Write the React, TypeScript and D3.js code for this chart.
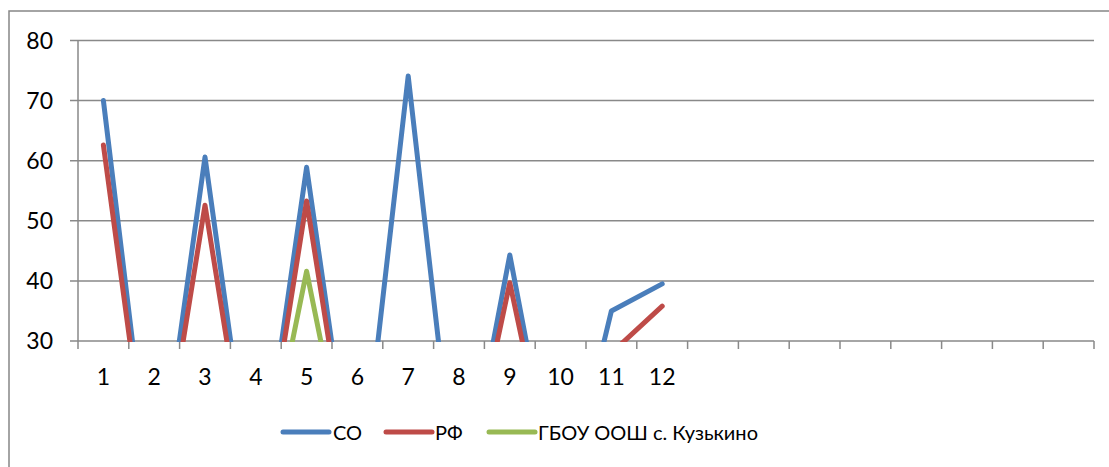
import React, { useEffect, useRef } from 'react';
import * as d3 from 'd3';

// 20 category slots on the axis, only the first 12 carry labels and data
const categoryLabels = ['1', '2', '3', '4', '5', '6', '7', '8', '9', '10', '11', '12', '', '', '', '', '', '', '', ''];
const coValues = [70, 0, 60.6, 0, 58.9, 0, 74.1, 0, 44.3, 0, 35, 39.5];
const rfValues = [62.6, 0, 52.6, 0, 53.3, 0, 0, 0, 39.7, 0, 28, 35.8];
const schoolValues = [0, 0, 0, 0, 41.6, 0, 0, 0, 0, 0, 0, 0];
const yTicks = [30, 40, 50, 60, 70, 80];

const series = [
  { name: 'СО', values: coValues, color: '#4A7EBB' },
  { name: 'РФ', values: rfValues, color: '#BE4B48' },
  { name: 'ГБОУ ООШ с. Кузькино', values: schoolValues, color: '#98B954' },
];

const W = 1109;
const H = 467;
const FONT = 'Lato, "Open Sans", sans-serif';

export default function App() {
  const svgRef = useRef<SVGSVGElement>(null);

  useEffect(() => {
    if (!svgRef.current) return;
    const svg = d3.select(svgRef.current);
    svg.selectAll('*').remove();

    const plot = { left: 78, right: 1094, top: 40.5, bottom: 341 };

    const xScale = d3.scaleBand<number>()
      .domain(categoryLabels.map((_, i) => i))
      .range([plot.left, plot.right]);

    const yScale = d3.scaleLinear()
      .domain([30, 80])
      .range([plot.bottom, plot.top]);

    // outer chart frame
    svg.append('rect')
      .attr('x', 9)
      .attr('y', 11)
      .attr('width', W + 10)
      .attr('height', H + 10)
      .attr('fill', '#fff')
      .attr('stroke', '#868686')
      .attr('stroke-width', 1.5);

    // horizontal gridlines (the 30 line doubles as the x axis)
    svg.append('g')
      .selectAll('line')
      .data(yTicks)
      .enter().append('line')
      .attr('x1', plot.left - 8)
      .attr('x2', plot.right)
      .attr('y1', d => yScale(d))
      .attr('y2', d => yScale(d))
      .attr('stroke', '#898989')
      .attr('stroke-width', 1.5);

    // y axis line
    svg.append('line')
      .attr('x1', plot.left)
      .attr('x2', plot.left)
      .attr('y1', plot.top)
      .attr('y2', plot.bottom)
      .attr('stroke', '#898989')
      .attr('stroke-width', 1.5);

    // y labels
    svg.append('g')
      .selectAll('text')
      .data(yTicks)
      .enter().append('text')
      .attr('x', 53)
      .attr('y', d => yScale(d) + 8)
      .attr('text-anchor', 'end')
      .style('font-family', FONT)
      .style('font-size', '23px')
      .attr('fill', '#000')
      .text(d => d);

    // x tick marks at category boundaries
    const boundaries = categoryLabels.map((_, i) => xScale(i) as number).concat([plot.right]);
    svg.append('g')
      .selectAll('line')
      .data(boundaries)
      .enter().append('line')
      .attr('x1', d => d)
      .attr('x2', d => d)
      .attr('y1', plot.bottom)
      .attr('y2', plot.bottom + 8)
      .attr('stroke', '#898989')
      .attr('stroke-width', 1.5);

    // x labels
    svg.append('g')
      .selectAll('text')
      .data(categoryLabels)
      .enter().append('text')
      .attr('x', (_, i) => (xScale(i) as number) + xScale.bandwidth() / 2)
      .attr('y', 385)
      .attr('text-anchor', 'middle')
      .style('font-family', FONT)
      .style('font-size', '23px')
      .attr('fill', '#000')
      .text(d => d);

    // clip lines to plot area like Excel does
    svg.append('defs')
      .append('clipPath')
      .attr('id', 'plot-clip')
      .append('rect')
      .attr('x', plot.left - 20)
      .attr('y', plot.top - 20)
      .attr('width', plot.right - plot.left + 40)
      .attr('height', plot.bottom - plot.top + 21);

    const line = d3.line<number>()
      .x((_, i) => (xScale(i) as number) + xScale.bandwidth() / 2)
      .y(d => yScale(d));

    const lines = svg.append('g').attr('clip-path', 'url(#plot-clip)');
    series.forEach(s => {
      lines.append('path')
        .datum(s.values)
        .attr('fill', 'none')
        .attr('stroke', s.color)
        .attr('stroke-width', 5)
        .attr('stroke-linejoin', 'round')
        .attr('stroke-linecap', 'round')
        .attr('d', line);
    });

    // legend
    const legendItems = [
      { x: 283, textX: 333 },
      { x: 386, textX: 435 },
      { x: 489, textX: 538 },
    ];
    const legend = svg.append('g');
    series.forEach((s, i) => {
      legend.append('line')
        .attr('x1', legendItems[i].x)
        .attr('x2', legendItems[i].x + 46)
        .attr('y1', 432)
        .attr('y2', 432)
        .attr('stroke', s.color)
        .attr('stroke-width', 5)
        .attr('stroke-linecap', 'round');
      legend.append('text')
        .attr('x', legendItems[i].textX)
        .attr('y', 440)
        .style('font-family', FONT)
        .style('font-size', '20px')
        .attr('fill', '#000')
        .text(s.name);
    });
  }, []);

  return (
    <svg
      ref={svgRef}
      width={W}
      height={H}
      style={{ position: 'absolute', left: 0, top: 0, display: 'block' }}
    />
  );
}
